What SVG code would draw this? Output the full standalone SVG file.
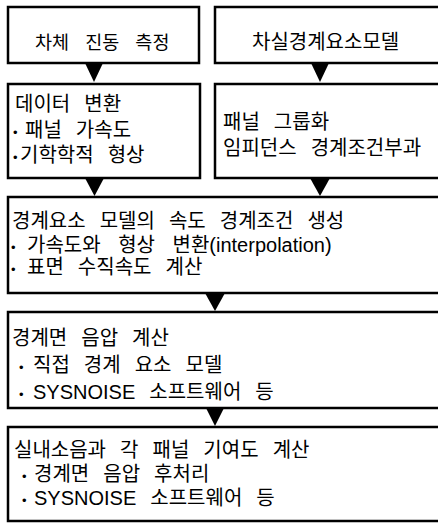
<svg xmlns="http://www.w3.org/2000/svg" width="438" height="523" viewBox="0 0 438 523">
<style>
.box{fill:#fff;stroke:#000;stroke-width:2.5}
.t{font-family:"Liberation Sans","Noto Sans CJK KR",sans-serif;font-size:20px;fill:#000;letter-spacing:0;word-spacing:8.5px}
.h{font-size:18.5px;word-spacing:11px}
.b{font-size:13px}
.arr{fill:#000;stroke:none}
</style>
<rect width="438" height="523" fill="#fff"/>
<g id="n1">
<rect class="box" x="8" y="7" width="191" height="56"/>
<text class="t h" x="35" y="49">차체 진동 측정</text>
</g>
<g id="n2">
<rect class="box" x="215" y="7" width="235" height="56"/>
<text class="t" x="252" y="49">차실경계요소모델</text>
</g>
<g id="n3">
<rect class="box" x="8" y="84" width="192" height="94"/>
<text class="t" x="15" y="111">데이터 변환</text>
<text class="t" y="137"><tspan class="b" x="13">•</tspan><tspan x="25">패널 가속도</tspan></text>
<text class="t" y="162"><tspan class="b" x="13">•</tspan><tspan x="20">기학학적 형상</tspan></text>
</g>
<g id="n4">
<rect class="box" x="215" y="84" width="235" height="94"/>
<text class="t" x="223" y="129">패널 그룹화</text>
<text class="t" x="223" y="155">임피던스 경계조건부과</text>
</g>
<g id="n5">
<rect class="box" x="8" y="197" width="442" height="96"/>
<text class="t" x="12" y="228">경계요소 모델의 속도 경계조건 생성</text>
<text class="t" y="252"><tspan class="b" x="11">•</tspan><tspan x="27" style="word-spacing:12px">가속도와 형상 변환</tspan><tspan>(interpolation)</tspan></text>
<text class="t" y="274"><tspan class="b" x="11">•</tspan><tspan x="27">표면 수직속도 계산</tspan></text>
</g>
<g id="n6">
<rect class="box" x="8" y="312" width="442" height="96"/>
<text class="t" x="12" y="345">경계면 음압 계산</text>
<text class="t" y="372"><tspan class="b" x="19">•</tspan><tspan x="33">직접 경계 요소 모델</tspan></text>
<text class="t" y="399"><tspan class="b" x="19">•</tspan><tspan x="33">SYSNOISE 소프트웨어 등</tspan></text>
</g>
<g id="n7">
<rect class="box" x="8" y="427" width="442" height="94"/>
<text class="t" x="14" y="457">실내소음과 각 패널 기여도 계산</text>
<text class="t" y="481"><tspan class="b" x="22">•</tspan><tspan x="34">경계면 음압 후처리</tspan></text>
<text class="t" y="505"><tspan class="b" x="22">•</tspan><tspan x="34">SYSNOISE 소프트웨어 등</tspan></text>
</g>
<g id="connectors">
<polygon class="arr" points="85,63 103,63 94,82"/>
<polygon class="arr" points="311,63 329,63 320,82"/>
<polygon class="arr" points="85,178 104,178 94.5,196"/>
<polygon class="arr" points="310,178 330,178 320,196"/>
<polygon class="arr" points="205,293 225,293 215,311"/>
<polygon class="arr" points="206,408 224,408 215,426"/>
</g>
</svg>
